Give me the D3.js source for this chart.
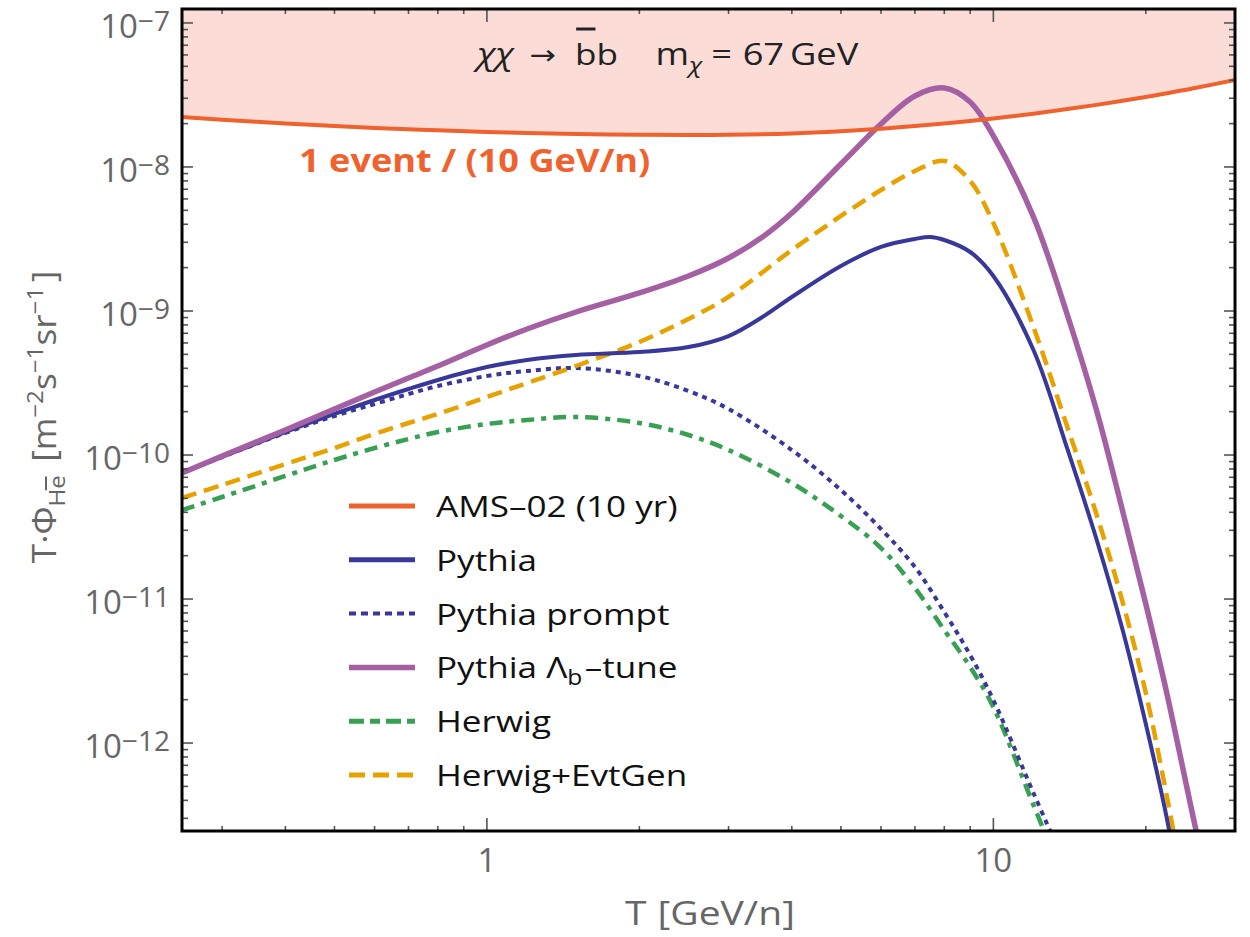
<!DOCTYPE html>
<html><head><meta charset="utf-8">
<script src="https://cdn.jsdelivr.net/npm/d3@7"></script>
<style>body{margin:0;background:#fff} svg{display:block} text{font-family:"Open Sans",sans-serif}</style>
</head><body><svg id="c" width="1250" height="937"></svg>
<script>
// ---------------- data ----------------
const gridT = [0.25,0.3,0.4,0.5,0.6,0.7,0.8,1,1.2,1.5,2,2.5,3,4,5,6,7,8,9,10,12,14,16,18,20,22,25,30];
const amsF  = [2.224e-8,2.13e-8,2.005e-8,1.927e-8,1.868e-8,1.827e-8,1.796e-8,1.75e-8,1.722e-8,1.694e-8,1.676e-8,1.668e-8,1.673e-8,1.711e-8,1.773e-8,1.845e-8,1.923e-8,2.002e-8,2.086e-8,2.172e-8,2.345e-8,2.524e-8,2.699e-8,2.882e-8,3.063e-8,3.25e-8,3.53e-8,4.02e-8];

const pythiaT = [0.25,0.3,0.4,0.5,0.6,0.7,0.8,1,1.2,1.5,2,2.5,3,3.5,4,5,6,7,7.5,8,9,10,12,14,16,18,20,22,22.5];
const pythiaF = [7.5e-11,9.69e-11,1.444e-10,1.927e-10,2.41e-10,2.873e-10,3.318e-10,4.08e-10,4.567e-10,4.95e-10,5.19e-10,5.62e-10,6.70e-10,9.08e-10,1.251e-9,2.054e-9,2.783e-9,3.162e-9,3.265e-9,3.112e-9,2.568e-9,1.75e-9,5.36e-10,1.101e-10,2.568e-11,6.09e-12,1.355e-12,3.015e-13,1.957e-13];

const promptT = [0.25,0.3,0.4,0.5,0.6,0.7,0.8,1,1.2,1.5,2,2.5,3,4,5,6,7,8,9,10,12,13.2];
const promptF = [7.5e-11,9.69e-11,1.422e-10,1.866e-10,2.26e-10,2.65e-10,3.015e-10,3.537e-10,3.83e-10,4.02e-10,3.537e-10,2.783e-10,2.086e-10,1.083e-10,5.71e-11,3.063e-11,1.668e-11,8.12e-12,4.08e-12,1.989e-12,4.496e-13,2.1e-13];

const lambdaT = [0.25,0.3,0.4,0.5,0.6,0.7,0.8,1,1.2,1.5,2,2.5,3,3.5,4,5,6,7,8,9,10,12,14,16,18,20,22,25,25.5];
const lambdaF = [7.5e-11,9.84e-11,1.491e-10,2.086e-10,2.738e-10,3.425e-10,4.15e-10,5.81e-10,7.50e-10,9.84e-10,1.334e-9,1.75e-9,2.334e-9,3.265e-9,4.79e-9,1.049e-8,1.989e-8,3.112e-8,3.537e-8,2.828e-8,1.642e-8,4.50e-9,9.38e-10,2.02e-10,4.08e-11,9.23e-12,2.224e-12,2.695e-13,2.0e-13];

const herwigT = [0.25,0.3,0.4,0.5,0.6,0.7,0.8,1,1.2,1.5,2,2.5,3,4,5,6,7,8,9,10,12,12.9];
const herwigF = [4.15e-11,5.11e-11,7.15e-11,9.23e-11,1.118e-10,1.292e-10,1.444e-10,1.642e-10,1.75e-10,1.836e-10,1.668e-10,1.377e-10,1.083e-10,6.39e-11,3.77e-11,2.26e-11,1.192e-11,6.09e-12,3.372e-12,1.778e-12,3.71e-13,2.0e-13];

const evtgenT = [0.25,0.3,0.4,0.5,0.6,0.7,0.8,1,1.2,1.5,2,2.5,3,4,5,6,7,8,9,10,12,14,16,18,20,22,23];
const evtgenF = [5.03e-11,6.19e-11,8.66e-11,1.118e-10,1.399e-10,1.668e-10,1.927e-10,2.528e-10,3.162e-10,4.15e-10,6.09e-10,8.80e-10,1.251e-9,2.65e-9,4.567e-9,6.92e-9,9.38e-9,1.101e-8,7.99e-9,4.08e-9,7.74e-10,1.565e-10,3.83e-11,9.53e-12,2.224e-12,4.285e-13,1.866e-13];

const xMajor = [1,10];
const xMinor = [0.3,0.4,0.5,0.6,0.7,0.8,0.9,2,3,4,5,6,7,8,9,20];
const yExp = [-12,-11,-10,-9,-8,-7];
const legendLabels = ["AMS\u201302 (10 yr)","Pythia","Pythia prompt","Pythia \u039B|b|\u2013tune","Herwig","Herwig+EvtGen"];

// ---------------- layout ----------------
const svg = d3.select('#c');
const L=182, R=1235, TOP=9, BOT=831;
const x = d3.scaleLog().domain([0.25,30]).range([L,R]);
const y = d3.scaleLog().domain([2.45e-13,1.25e-7]).range([BOT,TOP]);

const col = {ams:'#f0622d', band:'#fbdcd7', py:'#38389a', lam:'#a560a3', hw:'#37a052', eg:'#e8a200'};

svg.append('clipPath').attr('id','clip').append('rect')
  .attr('x',L).attr('y',TOP).attr('width',R-L).attr('height',BOT-TOP);
const plot = svg.append('g').attr('clip-path','url(#clip)');

const curve = d3.curveCatmullRom.alpha(0.5);
const amsData = gridT.map((t,i)=>[t,amsF[i]]);
plot.append('path').datum(amsData)
  .attr('d', d3.area().x(d=>x(d[0])).y0(TOP).y1(d=>y(d[1])).curve(curve))
  .attr('fill', col.band);

const line = d3.line().x(d=>x(d[0])).y(d=>y(d[1])).curve(curve);
function series(T,F,color,w,dash){
  plot.append('path').datum(T.map((t,i)=>[t,F[i]])).attr('d',line)
    .attr('fill','none').attr('stroke',color).attr('stroke-width',w)
    .attr('stroke-dasharray',dash||null).attr('stroke-linecap', dash?'butt':'round');
}
series(herwigT,herwigF,col.hw,4.5,'13,7,5,7');
series(promptT,promptF,col.py,4,'5,5');
series(evtgenT,evtgenF,col.eg,4.5,'15,8');
series(pythiaT,pythiaF,col.py,4);
series(lambdaT,lambdaF,col.lam,5.5);
series(gridT,amsF,col.ams,4);

// ---------------- ticks ----------------
const tk = svg.append('g').attr('stroke','#555').attr('stroke-width',1.6);
function vt(v,len){ const px=x(v);
  tk.append('line').attr('x1',px).attr('x2',px).attr('y1',BOT).attr('y2',BOT-len);
  tk.append('line').attr('x1',px).attr('x2',px).attr('y1',TOP).attr('y2',TOP+len);}
xMajor.forEach(v=>vt(v,13)); xMinor.forEach(v=>vt(v,5));
function ht(v,len){ const py=y(v); if(py<TOP+1||py>BOT-1) return;
  tk.append('line').attr('x1',L).attr('x2',L+len).attr('y1',py).attr('y2',py);
  tk.append('line').attr('x1',R).attr('x2',R-len).attr('y1',py).attr('y2',py);}
for(let e=-13;e<=-7;e++){ ht(Math.pow(10,e),11); for(let k=2;k<=9;k++) ht(k*Math.pow(10,e),6); }

svg.append('rect').attr('x',L).attr('y',TOP).attr('width',R-L).attr('height',BOT-TOP)
  .attr('fill','none').attr('stroke','#000').attr('stroke-width',3);

// ---------------- rich text helper ----------------
function rich(x0,y0,parts,o){
  o=o||{};
  const g = svg.append('g');
  const inner = g.append('g');
  let cx=0;
  parts.forEach(p=>{
    const el = inner.append('text').attr('x',cx).attr('y',p.dy||0).attr('font-size',p.fs)
      .attr('fill',p.fill||o.fill||'#000').text(p.t);
    if(p.ff) el.style('font-family',p.ff);
    if(p.it) el.attr('font-style','italic');
    if(p.fw||o.fw) el.attr('font-weight',p.fw||o.fw);
    const w = el.node().getComputedTextLength();
    if(p.ov){ inner.append('line').attr('x1',cx+w*p.ov[0]).attr('x2',cx+w*p.ov[1])
      .attr('y1',(p.dy||0)-p.ov[2]).attr('y2',(p.dy||0)-p.ov[2])
      .attr('stroke',p.fill||o.fill||'#000').attr('stroke-width',p.ov[3]||2.5);}
    cx += w + (p.sp||0);
  });
  const sx=o.sx||1;
  let ox=0; if(o.anchor==='end') ox=-cx*sx; else if(o.anchor==='middle') ox=-cx*sx/2;
  g.attr('transform',`translate(${x0},${y0}) rotate(${o.rot||0}) translate(${ox},0) scale(${sx},1)`);
  return g;
}

// y tick labels
yExp.forEach(e=>{
  rich(170, y(Math.pow(10,e))+15, [{t:'10',fs:33},{t:'\u2212'+(-e),fs:28,dy:-7}], {anchor:'end',fill:'#666'});
});
// x tick labels
xMajor.forEach(v=>{
  svg.append('text').attr('x',x(v)).attr('y',872).attr('text-anchor','middle')
    .attr('font-size',33).attr('fill','#666').text(v);
});
// x axis label
rich(710, 925, [{t:'T',fs:32,sp:9},{t:'[GeV/n]',fs:32}], {anchor:'middle',fill:'#666',sx:1.22});
// y axis label
rich(56, 417, [
  {t:'T\u00B7\u03A6',fs:32},
  {t:'He',fs:22,dy:9,sp:12,ov:[0.52,0.95,19,2]},
  {t:'[m',fs:32},{t:'\u22122',fs:22,dy:-13},
  {t:'s',fs:32},{t:'\u22121',fs:22,dy:-13},
  {t:'sr',fs:32},{t:'\u22121',fs:22,dy:-13,sp:4},
  {t:']',fs:32}
], {anchor:'middle',fill:'#666',rot:-90,sx:1.1});

// title
rich(477, 65, [
  {t:'\u03C7\u03C7',fs:31,it:true,sp:14},
  {t:'\u2192',fs:27,ff:'"DejaVu Sans"',dy:-1,sp:16},
  {t:'b',fs:30,ov:[0.05,0.95,36,3]},
  {t:'b',fs:30,sp:32},
  {t:'m',fs:31},
  {t:'\u03C7',fs:22,it:true,dy:8,sp:8},
  {t:'=',fs:31,sp:9},
  {t:'67',fs:31,sp:5},
  {t:'GeV',fs:31}
], {fill:'#222',sx:1.17});

// 1 event label
rich(299, 172, [{t:'1 event / (10 GeV/n)',fs:32}], {fill:col.ams,fw:'bold',sx:1.13});

// legend
const legStyles = [
  {c:col.ams,w:5,d:null},{c:col.py,w:5,d:null},{c:col.py,w:4,d:'7,5'},
  {c:col.lam,w:5.5,d:null},{c:col.hw,w:5,d:'15,6,10,6'},{c:col.eg,w:5,d:'16,8'}
];
legendLabels.forEach((lab,i)=>{
  const ly = 506 + i*53.8;
  const s = legStyles[i];
  svg.append('line').attr('x1',349).attr('x2',415).attr('y1',ly).attr('y2',ly)
    .attr('stroke',s.c).attr('stroke-width',s.w).attr('stroke-dasharray',s.d);
  const bits = lab.split('|');
  const parts = bits.length===1 ? [{t:lab,fs:30}] :
    [{t:bits[0],fs:30},{t:bits[1],fs:21,dy:7,sp:2},{t:bits[2],fs:30}];
  rich(436, ly+11, parts, {fill:'#111',sx:1.17});
});
</script></body></html>
